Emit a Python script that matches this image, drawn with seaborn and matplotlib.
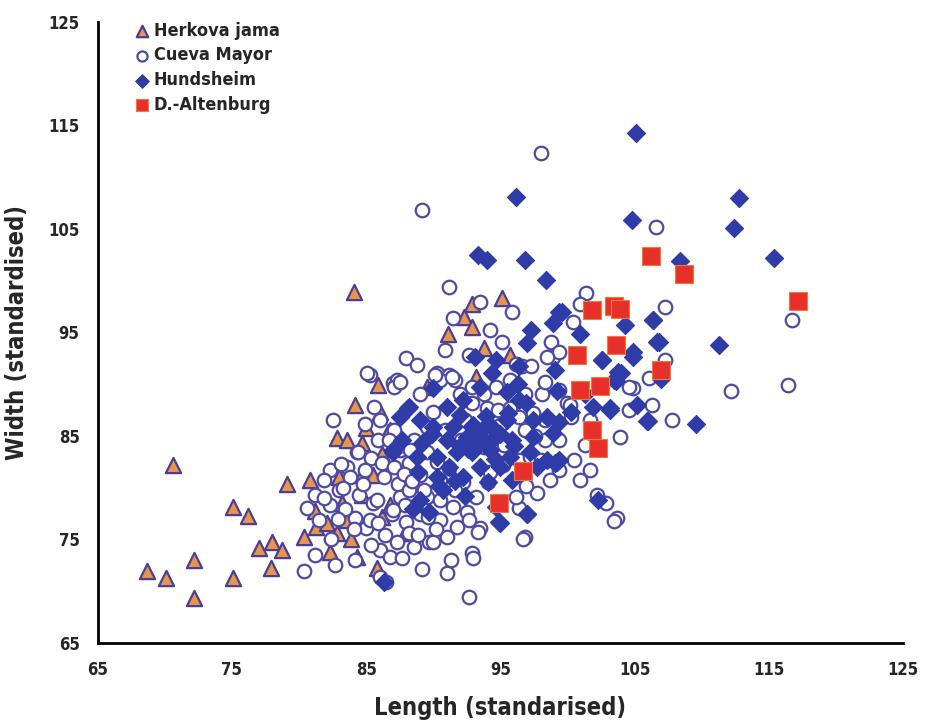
import matplotlib
matplotlib.use("Agg")
import matplotlib.pyplot as plt
import seaborn as sns
import pandas as pd

# ---------------- data ----------------
herkova_x = [70.6, 68.7, 70.1, 72.2, 72.2, 75.1, 76.2, 75.1, 77.0, 78.0, 78.7, 77.9, 79.1, 80.8,
             80.4, 81.2, 81.3, 82.1, 83.2, 83.6, 82.8, 82.3, 83.9, 84.3, 84.7, 84.2, 85.9, 86.0,
             85.0, 82.8, 83.6, 84.7, 86.8, 83.0, 84.7, 85.5, 86.2, 85.8, 84.1, 95.1, 92.9, 92.3,
             92.9, 91.1, 93.8, 95.7, 93.2, 89.5, 86.6, 86.2, 87.9, 86.8]
herkova_y = [82.2, 71.9, 71.3, 73.0, 69.3, 78.1, 77.3, 71.3, 74.2, 74.7, 74.0, 72.2, 80.3, 80.7,
             75.2, 77.7, 76.2, 76.6, 78.5, 76.9, 75.6, 73.8, 75.0, 73.3, 79.3, 88.0, 89.9, 87.3,
             85.8, 84.8, 84.6, 84.3, 85.6, 81.0, 81.2, 81.2, 77.2, 72.2, 98.9, 98.3, 97.7, 96.5,
             95.5, 94.8, 93.5, 92.8, 90.7, 89.7, 85.4, 83.2, 75.6, 78.3]

cueva_x = [85.3, 82.5, 84.3, 82.3, 83.6, 81.2, 85.5, 85.0, 86.4, 86.0, 86.8, 80.4, 86.5, 87.0,
           88.0, 85.1, 87.3, 87.1, 91.2, 93.5, 95.9, 91.5, 94.2, 95.1, 96.2, 90.3, 91.2, 90.5,
           91.6, 92.9, 94.7, 95.7, 96.6, 97.3, 90.0, 92.9, 94.0, 94.8, 95.7, 96.4, 97.4, 89.5,
           90.1, 91.4, 87.5, 98.8, 98.9, 100.4, 101.4, 100.9, 104.9, 106.1, 103.9, 100.9, 102.2,
           102.9, 103.7, 97.7, 96.8, 93.5, 92.9, 89.7, 96.4, 100.0, 100.3, 89.5, 90.3, 91.2,
           92.2, 89.5, 90.5, 91.5, 92.5, 93.2, 94.1, 94.2, 95.2, 96.4, 97.2, 96.2, 90.5, 91.8,
           91.0, 90.0, 92.7, 93.3, 96.7, 93.0, 89.2, 84.4, 85.4, 86.2, 87.1, 88.2, 81.9, 83.8,
           85.8, 87.4, 87.5, 85.3, 84.2, 85.9, 86.9, 88.0, 85.4, 87.3, 87.7, 88.2, 88.6, 86.0,
           99.4, 98.5, 104.6, 100.2, 104.6, 98.1, 107.3, 116.7, 112.2, 116.4, 107.3, 107.8, 98.0,
           89.2, 106.6, 92.7, 90.9, 92.1, 93.8, 95.3, 96.8, 98.3, 92.4, 98.0, 99.4, 98.7, 100.5,
           101.3, 101.7, 101.7, 99.4, 88.6, 87.5, 87.1, 85.9, 84.9, 83.0, 82.3, 83.4, 84.5, 81.5,
           82.4, 81.2, 82.7, 84.2, 84.9, 86.0, 89.0, 92.0, 93.8, 90.9, 92.7, 96.8, 98.3, 88.2,
           89.0, 87.9, 90.5, 91.6, 89.0, 98.3, 99.4, 91.0, 93.0, 96.9, 97.6, 95.0, 93.8, 88.8,
           103.5, 106.3, 83.3, 84.8, 86.3, 87.8, 88.3, 89.3, 86.7, 85.6, 83.1, 81.9, 80.6,
           88.9, 90.2, 91.3, 89.6, 88.4, 87.0, 84.1, 82.9]
cueva_y = [90.9, 86.5, 83.4, 81.7, 82.0, 79.3, 78.5, 76.1, 75.4, 74.0, 73.3, 71.9, 70.9, 90.1,
           92.5, 91.1, 90.4, 89.7, 99.4, 97.9, 97.0, 96.4, 95.2, 94.1, 91.9, 91.1, 90.9, 90.4,
           90.4, 89.7, 89.7, 90.4, 91.7, 91.7, 87.3, 88.2, 87.7, 87.5, 87.7, 86.8, 87.2, 85.9,
           90.9, 90.7, 90.2, 94.1, 92.6, 96.0, 98.8, 97.7, 89.6, 90.6, 84.9, 80.7, 79.3,
           78.5, 77.1, 79.5, 75.2, 76.1, 73.7, 74.7, 78.0, 88.2, 86.8, 83.4, 82.5, 81.9,
           80.5, 79.1, 78.8, 78.1, 77.6, 79.1, 80.5, 81.5, 82.2, 82.7, 83.0, 79.1, 76.9, 76.2,
           75.2, 74.7, 76.9, 75.7, 75.0, 73.2, 72.1, 83.4, 82.9, 82.4, 82.0, 82.4, 80.7, 81.0,
           78.8, 80.3, 79.1, 76.9, 77.1, 76.6, 77.4, 76.7, 74.5, 74.7, 73.2, 75.6, 74.3, 71.4,
           93.1, 92.6, 89.7, 88.0, 87.5, 89.0, 97.4, 96.2, 89.3, 89.9, 92.3, 86.5, 112.3,
           106.8, 105.2, 69.4, 85.6, 84.6, 85.1, 84.1, 85.6, 84.6, 86.5, 82.7, 81.7, 80.7, 82.7,
           84.1, 81.7, 86.5, 84.6, 84.6, 83.6, 85.6, 84.6, 81.7, 79.8, 78.3, 77.9, 79.3, 76.9,
           75.0, 73.5, 72.5, 73.0, 86.1, 86.5, 89.0, 89.0, 89.0, 93.3, 92.8, 89.0, 86.5, 79.8,
           77.4, 78.3, 80.7, 79.8, 81.2, 90.2, 89.4, 71.7, 84.0, 80.2, 85.0, 86.0, 83.9, 91.8,
           76.8, 88.0, 80.0, 80.3, 81.0, 81.3, 83.6, 79.8, 84.6, 87.8, 82.3, 79.0, 78.0,
           75.4, 76.0, 73.0, 77.2, 80.6, 77.8, 76.0, 77.0]

hund_x = [105.1, 112.8, 96.2, 112.4, 104.8, 115.4, 96.8, 93.3, 94.0, 98.4, 108.4, 111.3, 106.7,
          106.4, 104.3, 100.9, 99.4, 102.6, 104.9, 104.0, 103.6, 109.6, 106.0, 107.0, 102.3,
          97.0, 94.9, 86.3, 99.1, 101.3, 100.3, 103.2, 105.2, 99.6, 98.9, 97.3, 97.0, 93.1,
          94.7, 96.4, 99.1, 104.9, 102.6, 106.4, 103.8, 103.5, 106.8, 99.2, 101.9, 103.2,
          105.9, 94.4, 93.5, 95.5, 96.4, 92.2, 91.0, 88.2, 87.5, 89.0, 90.0, 91.5, 92.9, 94.4,
          95.5, 97.4, 98.5, 99.4, 87.7, 89.2, 91.0, 92.5, 93.5, 94.4, 95.9, 97.4, 98.9, 87.0,
          88.8, 90.3, 91.8, 92.9, 94.2, 95.7, 97.2, 98.5, 99.4, 91.2, 93.5, 95.0, 90.3, 92.2,
          97.7, 90.7, 89.0, 88.5, 89.7, 94.7, 95.0, 97.0, 99.2, 94.1, 95.9, 88.1, 90.0, 87.0,
          93.1, 92.0, 93.0, 94.0, 95.0, 96.0, 92.6, 93.6, 94.6, 95.6, 91.6, 93.9, 96.9, 90.4,
          92.4, 89.9, 96.3, 88.9, 92.0]
hund_y = [114.3, 108.0, 108.1, 105.1, 105.9, 102.2, 102.0, 102.5, 102.0, 100.1, 101.9, 93.8, 94.1,
          96.2, 95.7, 94.8, 97.0, 92.3, 93.1, 91.1, 90.3, 86.1, 86.4, 90.5, 78.8,
          77.4, 76.7, 70.9, 82.4, 89.0, 87.3, 87.7, 88.0, 97.0, 95.9, 95.2, 94.0, 92.6,
          92.3, 91.7, 91.4, 92.6, 92.3, 96.2, 91.2, 90.4, 94.1, 89.3, 87.8, 87.5,
          86.4, 91.1, 89.7, 89.2, 88.5, 88.5, 87.8, 87.8, 86.8, 86.5, 85.9, 85.9, 85.9, 85.9,
          86.5, 86.5, 86.8, 86.3, 84.6, 84.3, 84.6, 84.9, 84.3, 84.6, 84.6, 84.9, 85.3, 83.4,
          83.0, 83.0, 83.4, 83.4, 83.6, 83.0, 83.4, 82.7, 82.7, 82.0, 82.0, 82.0, 81.0, 81.0,
          82.0, 79.8, 78.8, 77.9, 77.6, 78.1, 76.6, 77.4, 82.5, 80.5, 80.7, 87.7, 89.6, 83.6,
          85.0, 84.0, 86.0, 84.3, 85.2, 84.0, 83.7, 85.6, 82.8, 87.2, 80.6, 86.9, 88.2, 80.2,
          79.2, 85.2, 90.0, 81.5, 87.0]

alten_x = [106.2, 108.7, 117.2, 101.8, 103.5, 103.9, 103.6, 100.7, 107.0, 100.9, 102.4, 101.8,
           102.3, 96.7, 94.9]
alten_y = [102.4, 100.6, 98.0, 97.2, 97.5, 97.3, 93.8, 92.8, 91.4, 89.4, 89.8, 85.6,
           83.8, 81.6, 78.5]

x_ticks = [65, 75, 85, 95, 105, 115, 125]
y_ticks = [65, 75, 85, 95, 105, 115, 125]

# ---------------- plot ----------------
sns.set_style("white")
plt.rcParams['font.family'] = ['DejaVu Sans', 'Liberation Sans']
plt.rcParams['font.stretch'] = 'condensed'

fig = plt.figure(figsize=(9.3, 7.28), dpi=100)
ax = fig.add_axes([0.105, 0.117, 0.866, 0.853])

edge = "#4a3f98"
series = [
    ("Herkova jama", herkova_x, herkova_y, dict(marker="^", s=120, color="#e8954a", edgecolor=edge, linewidth=1.6)),
    ("Cueva Mayor", cueva_x, cueva_y, dict(marker="o", s=95, color="white", edgecolor="#4d4aa6", linewidth=1.6)),
    ("Hundsheim", hund_x, hund_y, dict(marker="D", s=85, color="#2f3ca8", edgecolor="#2f3ca8", linewidth=0.8)),
    ("D.-Altenburg", alten_x, alten_y, dict(marker="s", s=150, color="#e8302a", edgecolor="#f07a3a", linewidth=0.8)),
]
for name, xs, ys, kw in series:
    df = pd.DataFrame({"x": xs, "y": ys})
    sns.scatterplot(data=df, x="x", y="y", ax=ax, label=name, zorder=3, **kw)

ax.set_xlim(65, 125)
ax.set_ylim(65, 125)
ax.set_xticks(x_ticks)
ax.set_yticks(y_ticks)
ax.tick_params(axis="both", which="major", direction="out", length=5, width=1.5,
               labelsize=12, color="black", pad=8)
for lab in ax.get_xticklabels() + ax.get_yticklabels():
    lab.set_fontweight("bold")
for side in ["top", "right"]:
    ax.spines[side].set_visible(False)
for side in ["left", "bottom"]:
    ax.spines[side].set_linewidth(2)
    ax.spines[side].set_color("black")

ax.set_xlabel("Length (standarised)", fontsize=17, fontweight="bold", labelpad=12)
ax.set_ylabel("Width (standardised)", fontsize=17, fontweight="bold", labelpad=14)

leg = ax.legend(loc="upper left", bbox_to_anchor=(0.035, 1.012), frameon=False,
                fontsize=13, handletextpad=0.15, labelspacing=0.38, borderaxespad=0.0,
                handlelength=1.0, markerscale=0.75)
for t in leg.get_texts():
    t.set_fontweight("bold")

fig.savefig("out.png", dpi=100)
